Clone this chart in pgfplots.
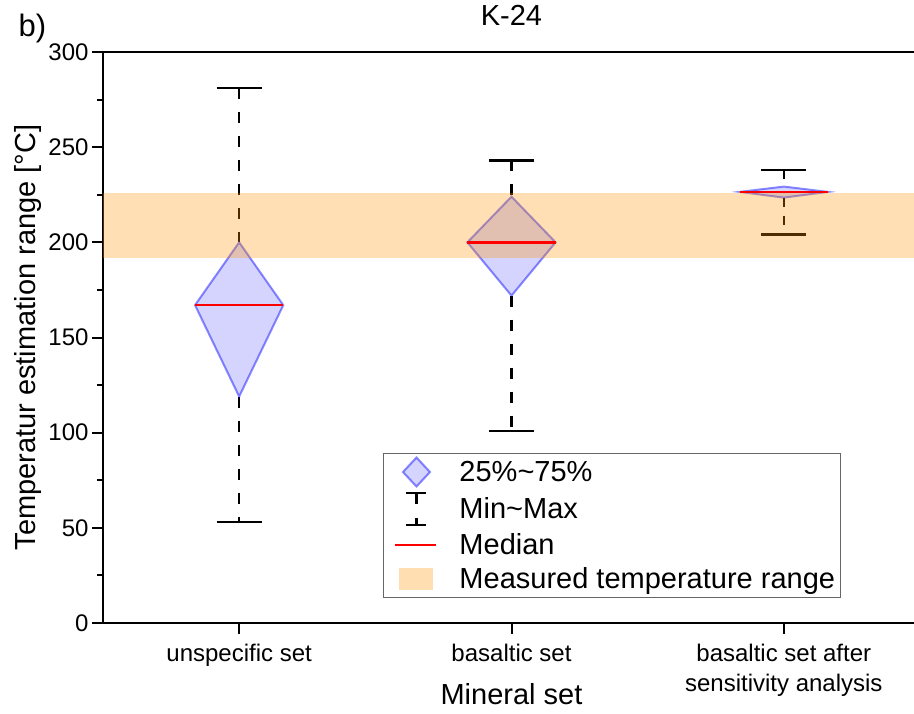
\documentclass[border=0pt]{standalone}
\usepackage{pgfplots}
\pgfplotsset{compat=1.18}
\usepackage{fontspec}
\setmainfont{Liberation Sans}
\definecolor{dblue}{RGB}{0,0,255}
\definecolor{borange}{RGB}{255,148,2}
\begin{document}
\begin{tikzpicture}
\useasboundingbox (-103pt,-90pt) rectangle (811pt,623pt);
\begin{axis}[
  at={(0,0)}, anchor=south west,
  scale only axis, width=817pt, height=571pt,
  xmin=0.5, xmax=3.5, ymin=0, ymax=300,
  xtick={1,2,3},
  xticklabels={unspecific set, basaltic set, {basaltic set after\\sensitivity analysis}},
  xticklabel style={align=center, font=\fontsize{24}{30}\selectfont, yshift=-7pt},
  ytick={0,50,...,300},
  minor y tick num=1,
  yticklabel style={font=\fontsize{24}{29}\selectfont},
  /pgf/number format/assume math mode=true,
  tick align=outside, xtick pos=bottom, ytick pos=left,
  major tick length=11pt, minor tick length=6pt,
  tick style={black, line width=2pt},
  axis line style={line width=2pt},
  clip=false,
  unbounded coords=jump,
  xlabel={Mineral set},
  xlabel style={font=\fontsize{29}{35}\selectfont, at={(axis description cs:0.5,-0.124)}, anchor=center},
  ylabel={Temperatur estimation range [°C]},
  ylabel style={font=\fontsize{29}{35}\selectfont, at={(axis description cs:-0.0918,0.5)}, anchor=center, rotate=0},
  title={K-24},
  title style={font=\fontsize{29}{35}\selectfont, at={(axis description cs:0.5,1)}, anchor=base, yshift=21pt},
  legend cell align=left,
  legend style={at={(axis description cs:0.3427,0.2977)}, anchor=north west,
    draw=black!60, line width=1pt, fill=white,
    font=\fontsize{29}{35}\selectfont,
    inner xsep=3pt, inner ysep=3pt,
    nodes={inner sep=2pt}, row sep=4pt, column sep=9pt},
]
% whiskers (max -> Q3, Q1 -> min)
\addplot[black, line width=2.5pt, dash pattern=on 11pt off 13pt, forget plot] coordinates {(1,281) (1,200) (1,nan) (1,119) (1,53)};
\addplot[black, line width=2.5pt, dash pattern=on 11pt off 13pt, forget plot] coordinates {(2,243) (2,224) (2,nan) (2,172) (2,101)};
\addplot[black, line width=2.5pt, dash pattern=on 9pt off 9pt, forget plot] coordinates {(3,238) (3,229.3) (3,nan) (3,223.5) (3,204)};
% caps
\addplot[black, line width=2.5pt, forget plot] coordinates {(0.917,281) (1.083,281) (1,nan) (0.917,53) (1.083,53)};
\addplot[black, line width=2.5pt, forget plot] coordinates {(1.917,243) (2.083,243) (2,nan) (1.917,101) (2.083,101)};
\addplot[black, line width=2.5pt, forget plot] coordinates {(2.917,238) (3.083,238) (3,nan) (2.917,204) (3.083,204)};
% diamonds (Q1, median, Q3)
\addplot[draw=dblue, draw opacity=0.45, fill=dblue, fill opacity=0.17, line width=2pt, forget plot] coordinates {(0.838,167) (1,200) (1.162,167) (1,119)} -- cycle;
\addplot[draw=dblue, draw opacity=0.45, fill=dblue, fill opacity=0.17, line width=2pt, forget plot] coordinates {(1.838,200) (2,224) (2.162,200) (2,172)} -- cycle;
\addplot[draw=dblue, draw opacity=0.45, fill=dblue, fill opacity=0.17, line width=2pt, forget plot] coordinates {(2.838,226.5) (3,229.3) (3.162,226.5) (3,223.5)} -- cycle;
% measured temperature range
\addplot[draw=none, fill=borange, fill opacity=0.3, forget plot] coordinates {(0.5,192) (3.5,192) (3.5,226) (0.5,226)} -- cycle;
% medians
\addplot[red, line width=2.5pt, forget plot] coordinates {(0.838,167) (1.162,167)};
\addplot[red, line width=2.5pt, forget plot] coordinates {(1.838,200) (2.162,200)};
\addplot[red, line width=2.5pt, forget plot] coordinates {(2.838,226.5) (3.162,226.5)};
% legend
\addlegendimage{legend image code/.code={
  \path[draw=none, fill=none] (0pt,-15pt) rectangle (62pt,15pt);
  \draw[draw=dblue, draw opacity=0.45, fill=dblue, fill opacity=0.17, line width=2pt] (16.5pt,0pt) -- (30pt,14.5pt) -- (43.5pt,0pt) -- (30pt,-14.5pt) -- cycle;}}
\addlegendentry{25\%\textasciitilde 75\%}
\addlegendimage{legend image code/.code={
  \path[draw=none, fill=none] (0pt,-15pt) rectangle (62pt,15pt);
  \draw[black, line width=2.5pt] (20pt,16pt) -- (40pt,16pt) (30pt,16pt) -- (30pt,5pt) (30pt,-9pt) -- (30pt,-16pt) (20pt,-16pt) -- (40pt,-16pt);}}
\addlegendentry{Min\textasciitilde Max}
\addlegendimage{legend image code/.code={
  \path[draw=none, fill=none] (0pt,-15pt) rectangle (62pt,15pt);
  \draw[red, line width=2.5pt] (9pt,0pt) -- (50pt,0pt);}}
\addlegendentry{Median}
\addlegendimage{legend image code/.code={
  \path[draw=none, fill=none] (0pt,-15pt) rectangle (62pt,15pt);
  \fill[draw=none, borange, fill opacity=0.3] (13pt,-11pt) rectangle (47pt,11pt);}}
\addlegendentry{Measured temperature range}
\node[anchor=base west, font=\fontsize{31}{35}\selectfont, xshift=-88pt, yshift=16pt] at (rel axis cs:0,1) {b)};
\end{axis}
\end{tikzpicture}
\end{document}
